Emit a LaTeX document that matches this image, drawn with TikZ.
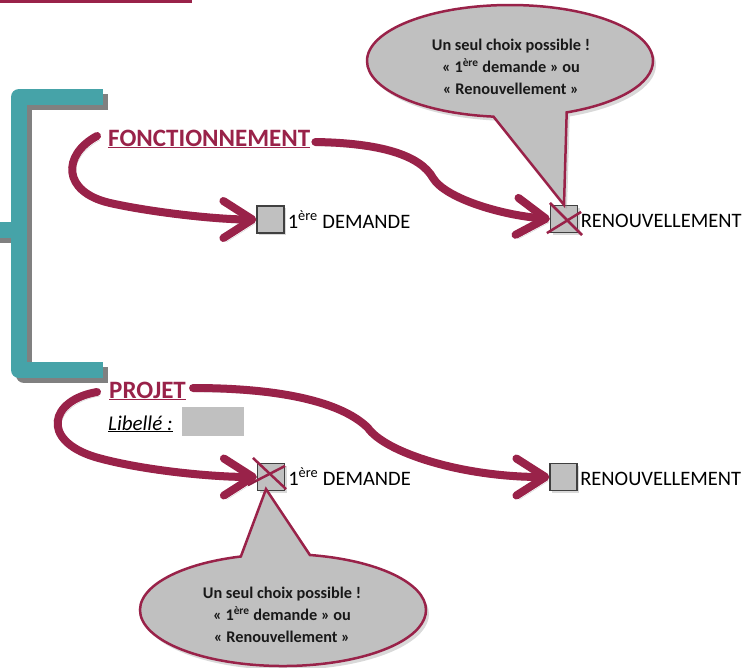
\documentclass[tikz,border=0pt]{standalone}
\usepackage{fontspec}
\setmainfont{Carlito}
\usetikzlibrary{arrows.meta,shapes.callouts,shadows}
\definecolor{maroon}{RGB}{153,34,73}
\definecolor{tealbar}{RGB}{70,163,168}
\definecolor{boxgray}{RGB}{192,192,192}
\begin{document}
\begin{tikzpicture}[x=1pt,y=-1pt,
  lbl/.style={font=\fontsize{25}{29}\selectfont\bfseries, text=maroon, inner sep=0pt, anchor=base west},
  chk/.style={draw=black!75, line width=1.2pt, fill=boxgray, minimum size=27pt, inner sep=0pt,
    drop shadow={shadow xshift=2pt, shadow yshift=-2pt, opacity=.3}},
  opt/.style={font=\fontsize{20.5}{24}\selectfont, inner sep=0pt, anchor=base west},
  conn/.style={draw=maroon, line width=8pt, line cap=round,
    -{Straight Barb[length=29pt,width=37pt,round]},
    preaction={draw=black, opacity=.18, transform canvas={shift={(3,4)}}}},
  cross/.style={draw=maroon, line width=2.5pt},
  bubble/.style={ellipse callout, draw=maroon, line width=2.5pt, fill=boxgray,
    minimum width=286pt, minimum height=112pt, inner sep=0pt,
    drop shadow={shadow xshift=3pt, shadow yshift=-4pt, opacity=.3}},
  bubtext/.style={align=center, inner sep=0pt, font=\fontsize{16.3}{22}\selectfont\bfseries, text=black!90},
  bar/.style={line width=16pt, line join=round, line cap=butt}
]
\useasboundingbox (0,0) rectangle (744,667);

% top rule
\fill[maroon] (0,0) rectangle (192,2.5);

% bracket (shadow then teal)
\draw[bar, draw=black!50] (108,102) -- (24,102) -- (24,375) -- (108,375);
\draw[bar, draw=black!50] (24,235) -- (-5,235);
\draw[bar, draw=tealbar] (103,97) -- (19,97) -- (19,370) -- (103,370);
\draw[bar, draw=tealbar] (19,230) -- (-5,230);

% labels
\node[lbl] (fonc) at (108,146) {\underline{FONCTIONNEMENT}};
\node[lbl] (proj) at (109,398) {\underline{PROJET}};
\node[font=\fontsize{21}{24}\selectfont\itshape, anchor=base west, inner sep=0pt] (lib) at (108,430) {\underline{Libellé :}};
\node[fill=boxgray, minimum width=62pt, minimum height=29pt, inner sep=0pt, anchor=north west] (libbox) at (182,407) {};

% check boxes
\node[chk] (box1) at (270.5,219.5) {};
\node[chk] (box2) at (564,219) {};
\node[chk] (box3) at (271,477) {};
\node[chk] (box4) at (563.5,477) {};

\node[opt] (t1) at ([shift={(3,8.5)}]box1.east) {1\textsuperscript{ère} DEMANDE};
\node[opt] (t2) at ([shift={(2.5,8.5)}]box2.east) {RENOUVELLEMENT};
\node[opt] (t3) at ([shift={(3,8.5)}]box3.east) {1\textsuperscript{ère} DEMANDE};
\node[opt] (t4) at ([shift={(2.5,8.5)}]box4.east) {RENOUVELLEMENT};

% crosses
\draw[cross] ([shift={(0,-2)}]box2.north west) -- ([shift={(4,2)}]box2.south east);
\draw[cross] ([shift={(-3,0)}]box2.south west) -- ([shift={(3,7)}]box2.north east);
\draw[cross] ([shift={(-4,-5)}]box3.north west) -- ([shift={(1,-2)}]box3.south east);
\draw[cross] ([shift={(-9,-6)}]box3.south west) -- ([shift={(0,3)}]box3.north east);

% connectors
\draw[conn] ([shift={(-11,-10)}]fonc.base west) .. controls (62,155) and (62,192) .. (110,203)
  .. controls (150,212) and (215,219.5) .. (box1.west);
\draw[conn] ([shift={(5,-4)}]fonc.base east) .. controls (380,143) and (420,155) .. (433,178)
  .. controls (445,198) and (500,215) .. (box2.west);
\draw[conn] ([shift={(-12,-6)}]proj.base west) .. controls (50,400) and (40,440) .. (95,457)
  .. controls (140,470) and (210,477) .. (box3.west);
\draw[conn] ([shift={(7,-10)}]proj.base east) .. controls (290,388) and (345,405) .. (368,428)
  .. controls (385,452) and (460,477) .. (box4.west);

% callouts
\node[bubble, callout pointer arc=30, callout absolute pointer={(box2.north)}] (c1) at (510,61) {};
\node[bubtext] (c1t) at (511,67) {Un seul choix possible !\\« 1\textsuperscript{ère} demande » ou\\« Renouvellement »};
\node[bubble, callout pointer arc=28, callout absolute pointer={([shift={(-5,-2)}]box3.south)}] (c2) at (283,610) {};
\node[bubtext] (c2t) at (282,615) {Un seul choix possible !\\« 1\textsuperscript{ère} demande » ou\\« Renouvellement »};
\end{tikzpicture}
\end{document}
